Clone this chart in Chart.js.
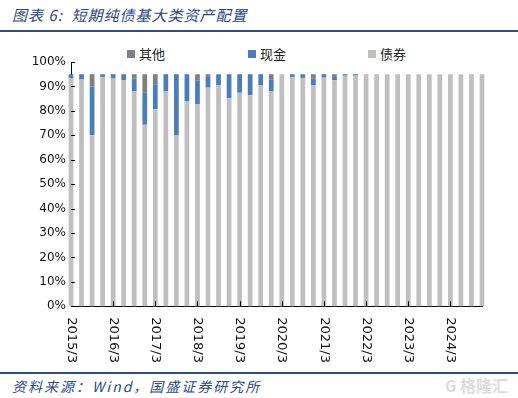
<!DOCTYPE html>
<html>
<head>
<meta charset="utf-8">
<script src="https://cdn.jsdelivr.net/npm/chart.js@4.4.1/dist/chart.umd.min.js"></script>
<style>
    body { margin: 0; background: #fff; }
    #page { position: relative; width: 518px; height: 398px; overflow: hidden; font-family: "DejaVu Sans", sans-serif; }
    .title { position: absolute; left: 12px; top: 4px; font-family: "Noto Sans CJK SC", sans-serif; font-style: italic; font-size: 15px; letter-spacing: 1px; color: #2c4a87; }
    .rule { position: absolute; left: 0; width: 518px; background: #2b4d8f; }
    .legend-item { position: absolute; top: 45px; font-family: "Noto Sans CJK SC", sans-serif; font-size: 13px; color: #222; line-height: 18px; }
    .legend-item span { display: inline-block; width: 8px; height: 8px; margin-right: 4px; vertical-align: 1px; }
    #chartBox { position: absolute; left: 0; top: 34px; width: 518px; height: 336px; }
    .source { position: absolute; left: 12px; top: 376px; font-family: "Noto Sans CJK SC", sans-serif; font-style: italic; font-size: 14px; letter-spacing: 2px; color: #2c4a87; }
    .mark { position: absolute; right: 10px; top: 373px; font-family: "Noto Sans CJK SC", sans-serif; font-size: 16px; font-weight: bold; color: #dcdcdc; }
</style>
</head>
<body>
<div id="page">
    <div class="title">图表 6:&nbsp; 短期纯债基大类资产配置</div>
    <div class="rule" style="top:30px;height:2px;"></div>
    <div id="legend"></div>
    <div id="chartBox"><canvas id="assetChart"></canvas></div>
    <div class="rule" style="top:372px;height:2px;"></div>
    <div class="source">资料来源：Wind，国盛证券研究所</div>
    <div class="mark">G 格隆汇</div>
</div>
<script>
// quarters 2015/3 .. 2024/12
const quarters = [];
for (let y = 2015; y <= 2024; y++) {
    [3, 6, 9, 12].forEach(m => quarters.push(y + '/' + m));
}

// shares in %
const bondShare = [93.5, 92.8, 70, 93.9, 93.2, 92.6, 87.9, 74.3, 80.7, 87.9,
                   70.1, 84, 82.8, 89.5, 90.4, 85.2, 87.4, 86.4, 90.4, 87.9,
                   95, 93.9, 93.5, 90.4, 93.6, 92.5, 94.4, 94.4, 95, 95,
                   95, 95, 95, 95, 95, 95, 95, 95, 95, 95];
const cashShare = [1.5, 2.2, 20, 1.1, 1.8, 2.4, 5.4, 13.1, 10.2, 7.1,
                   24.9, 11, 9.7, 4.4, 4.6, 9.8, 7.6, 8.6, 4.6, 5,
                   0, 1.1, 1.5, 2.8, 1.4, 1.7, 0.6, 0.6, 0, 0,
                   0, 0, 0, 0, 0, 0, 0, 0, 0, 0];
const otherShare = [0, 0, 5, 0, 0, 0, 1.7, 7.6, 4.1, 0,
                    0, 0, 2.5, 1.1, 0, 0, 0, 0, 0, 2.1,
                    0, 0, 0, 1.8, 0, 0.8, 0, 0, 0, 0,
                    0, 0, 0, 0, 0, 0, 0, 0, 0, 0];

const yTicks = [0, 10, 20, 30, 40, 50, 60, 70, 80, 90, 100];

const series = [
    { label: '其他', data: otherShare, color: '#7f7f7f' },
    { label: '现金', data: cashShare, color: '#4a7ebb' },
    { label: '债券', data: bondShare, color: '#bfbfbf' }
];

// legend (html)
const legendLeft = [127, 248, 368];
const legend = document.getElementById('legend');
series.forEach((s, i) => {
    const item = document.createElement('div');
    item.className = 'legend-item';
    item.style.left = legendLeft[i] + 'px';
    item.innerHTML = '<span style="background:' + s.color + '"></span>' + s.label;
    legend.appendChild(item);
});

const showLabel = i => i % 4 === 0;

// draw x labels rotated clockwise + inner tick marks
const axisExtras = {
    id: 'axisExtras',
    afterDraw(chart) {
        const ctx = chart.ctx;
        const x = chart.scales.x;
        const y = chart.scales.y;
        ctx.save();
        ctx.strokeStyle = '#000';
        ctx.lineWidth = 1;
        ctx.beginPath();
        yTicks.forEach(v => {
            const py = Math.round(y.getPixelForValue(v)) + 0.5;
            ctx.moveTo(x.left, py);
            ctx.lineTo(x.left + 4, py);
        });
        quarters.forEach((q, i) => {
            if (!showLabel(i) || i === 0) return;
            const px = Math.round(x.getPixelForTick(i)) + 0.5;
            ctx.moveTo(px, y.bottom);
            ctx.lineTo(px, y.bottom - 5);
        });
        ctx.stroke();

        ctx.fillStyle = '#111';
        ctx.font = '13px "DejaVu Sans"';
        ctx.textAlign = 'left';
        ctx.textBaseline = 'middle';
        quarters.forEach((q, i) => {
            if (!showLabel(i)) return;
            ctx.save();
            ctx.translate(x.getPixelForTick(i), y.bottom + 11);
            ctx.rotate(Math.PI / 2);
            ctx.fillText(q, 0, 0);
            ctx.restore();
        });
        ctx.restore();
    }
};

new Chart(document.getElementById('assetChart'), {
    type: 'bar',
    data: {
        labels: quarters,
        // bonds at the bottom, other on top
        datasets: series.slice().reverse().map(s => ({
            label: s.label,
            data: s.data,
            backgroundColor: s.color,
            borderWidth: 0,
            barPercentage: 0.45,
            categoryPercentage: 1,
            clip: false
        }))
    },
    options: {
        responsive: true,
        maintainAspectRatio: false,
        animation: false,
        layout: { padding: { top: 28, right: 36, bottom: 0, left: 0 } },
        plugins: {
            legend: { display: false },
            tooltip: { enabled: false }
        },
        scales: {
            x: {
                stacked: true,
                offset: false,
                grid: { display: false, drawTicks: false },
                border: { display: true, color: '#000', width: 1 },
                ticks: {
                    autoSkip: false,
                    minRotation: 90,
                    maxRotation: 90,
                    padding: 9,
                    color: 'rgba(0,0,0,0)',
                    font: { family: 'DejaVu Sans', size: 13 },
                    callback: (v, i) => showLabel(i) ? quarters[i] : ''
                }
            },
            y: {
                stacked: true,
                min: 0,
                max: 100,
                grid: { display: false, drawTicks: false },
                border: { display: true, color: '#000', width: 1 },
                afterFit: scale => { scale.width = 71; },
                ticks: {
                    stepSize: 10,
                    padding: 5,
                    color: '#111',
                    font: { family: 'DejaVu Sans', size: 12 },
                    callback: v => v + '%'
                }
            }
        }
    },
    plugins: [axisExtras]
});
</script>
</body>
</html>
